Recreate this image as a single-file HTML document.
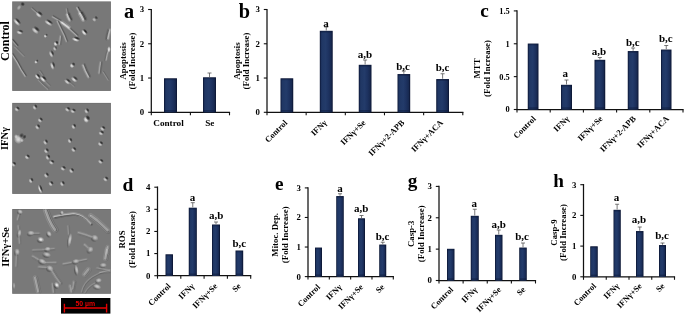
<!DOCTYPE html>
<html><head><meta charset="utf-8"><title>Figure</title>
<style>
html,body{margin:0;padding:0;background:#fff;}
svg{display:block;will-change:transform;opacity:0.999;}
text{font-family:"Liberation Serif", "DejaVu Serif", serif;fill:#000;}
</style></head>
<body>
<svg width="685" height="315" viewBox="0 0 685 315">
<defs><linearGradient id="bg" x1="0" y1="0" x2="1" y2="0"><stop offset="0" stop-color="#15264f"/><stop offset="0.12" stop-color="#203764"/><stop offset="0.45" stop-color="#233b6a"/><stop offset="0.7" stop-color="#1d3260"/><stop offset="0.9" stop-color="#182a52"/><stop offset="1" stop-color="#101c3e"/></linearGradient></defs>
<rect width="685" height="315" fill="#fff"/>
<g id="micro">
<radialGradient id="gl"><stop offset="0" stop-color="#fff" stop-opacity="0.85"/><stop offset="0.35" stop-color="#fff" stop-opacity="0.7"/><stop offset="1" stop-color="#fff" stop-opacity="0"/></radialGradient>
<radialGradient id="gd"><stop offset="0" stop-color="#000" stop-opacity="0.7"/><stop offset="0.35" stop-color="#000" stop-opacity="0.55"/><stop offset="1" stop-color="#000" stop-opacity="0"/></radialGradient>
<clipPath id="cp1"><rect x="12.2" y="1.4" width="98.7" height="89.5"/></clipPath><rect x="12.2" y="1.4" width="98.7" height="89.5" fill="#6e6e6e"/><rect x="12.899999999999999" y="2.0999999999999996" width="97.3" height="88.1" fill="#787878"/><g clip-path="url(#cp1)"><ellipse cx="19.0" cy="7.6" rx="2.97" ry="2.00" transform="rotate(-60 19.0 7.6)" fill="url(#gl)" opacity="0.5"/><ellipse cx="22.7" cy="4.1" rx="2.16" ry="2.40" transform="rotate(-60 22.7 4.1)" fill="url(#gd)" opacity="0.9"/>
<path d="M32.4 8.0 L38.1 12.9" stroke="#000" stroke-width="2.02" opacity="0.08" stroke-linecap="round" stroke-linejoin="round" fill="none"/><path d="M31.8 8.6 L37.5 13.5" stroke="#fff" stroke-width="2.02" opacity="0.09" stroke-linecap="round" stroke-linejoin="round" fill="none"/><path d="M32.4 8.0 L38.1 12.9" stroke="#000" stroke-width="0.88" opacity="0.20" stroke-linecap="round" stroke-linejoin="round" fill="none"/><path d="M31.8 8.6 L37.5 13.5" stroke="#fff" stroke-width="0.88" opacity="0.25" stroke-linecap="round" stroke-linejoin="round" fill="none"/>
<ellipse cx="38.6" cy="15.0" rx="3.71" ry="2.08" transform="rotate(40 38.6 15.0)" fill="url(#gl)" opacity="0.85"/><ellipse cx="40.2" cy="13.4" rx="3.34" ry="1.77" transform="rotate(40 40.2 13.4)" fill="url(#gd)" opacity="0.9"/>
<ellipse cx="16.6" cy="22.4" rx="4.73" ry="1.92" transform="rotate(48 16.6 22.4)" fill="url(#gl)" opacity="0.9"/><ellipse cx="18.1" cy="20.9" rx="4.25" ry="1.63" transform="rotate(48 18.1 20.9)" fill="url(#gd)" opacity="0.9"/>
<ellipse cx="48.2" cy="23.1" rx="4.73" ry="1.76" transform="rotate(35 48.2 23.1)" fill="url(#gl)" opacity="0.85"/><ellipse cx="49.8" cy="21.6" rx="4.25" ry="1.50" transform="rotate(35 49.8 21.6)" fill="url(#gd)" opacity="0.9"/>
<ellipse cx="19.4" cy="32.6" rx="3.38" ry="1.92" transform="rotate(20 19.4 32.6)" fill="url(#gl)" opacity="0.85"/><ellipse cx="20.9" cy="31.1" rx="3.04" ry="1.63" transform="rotate(20 20.9 31.1)" fill="url(#gd)" opacity="0.8"/>
<ellipse cx="35.1" cy="30.7" rx="4.39" ry="2.24" transform="rotate(42 35.1 30.7)" fill="url(#gl)" opacity="0.8"/><ellipse cx="36.9" cy="28.9" rx="3.95" ry="1.90" transform="rotate(42 36.9 28.9)" fill="url(#gd)" opacity="0.9"/>
<ellipse cx="45.3" cy="36.1" rx="1.76" ry="1.92" transform="rotate(0 45.3 36.1)" fill="url(#gl)" opacity="0.9"/><ellipse cx="46.5" cy="34.9" rx="1.58" ry="1.63" transform="rotate(0 46.5 34.9)" fill="url(#gd)" opacity="0.6"/>
<path d="M53.3 16.2 L60.6 20.4 L68.6 26.9 L77.6 35.2" stroke="#000" stroke-width="2.53" opacity="0.11" stroke-linecap="round" stroke-linejoin="round" fill="none"/><path d="M52.7 16.8 L60.0 21.0 L68.0 27.5 L77.0 35.8" stroke="#fff" stroke-width="2.53" opacity="0.13" stroke-linecap="round" stroke-linejoin="round" fill="none"/><path d="M53.3 16.2 L60.6 20.4 L68.6 26.9 L77.6 35.2" stroke="#000" stroke-width="1.10" opacity="0.27" stroke-linecap="round" stroke-linejoin="round" fill="none"/><path d="M52.7 16.8 L60.0 21.0 L68.0 27.5 L77.0 35.8" stroke="#fff" stroke-width="1.10" opacity="0.34" stroke-linecap="round" stroke-linejoin="round" fill="none"/>
<path d="M62.6 21.9 L69.6 26.9" stroke="#000" stroke-width="4.05" opacity="0.00" stroke-linecap="round" stroke-linejoin="round" fill="none"/><path d="M62.0 22.5 L69.0 27.5" stroke="#fff" stroke-width="4.05" opacity="0.20" stroke-linecap="round" stroke-linejoin="round" fill="none"/><path d="M62.6 21.9 L69.6 26.9" stroke="#000" stroke-width="1.76" opacity="0.00" stroke-linecap="round" stroke-linejoin="round" fill="none"/><path d="M62.0 22.5 L69.0 27.5" stroke="#fff" stroke-width="1.76" opacity="0.53" stroke-linecap="round" stroke-linejoin="round" fill="none"/>
<path d="M58.1 21.0 L61.8 28.7 L64.8 34.7 L67.2 40.9" stroke="#000" stroke-width="2.53" opacity="0.11" stroke-linecap="round" stroke-linejoin="round" fill="none"/><path d="M57.3 21.3 L61.0 29.0 L64.0 35.0 L66.4 41.2" stroke="#fff" stroke-width="2.53" opacity="0.13" stroke-linecap="round" stroke-linejoin="round" fill="none"/><path d="M58.1 21.0 L61.8 28.7 L64.8 34.7 L67.2 40.9" stroke="#000" stroke-width="1.10" opacity="0.27" stroke-linecap="round" stroke-linejoin="round" fill="none"/><path d="M57.3 21.3 L61.0 29.0 L64.0 35.0 L66.4 41.2" stroke="#fff" stroke-width="1.10" opacity="0.34" stroke-linecap="round" stroke-linejoin="round" fill="none"/>
<path d="M67.5 8.7 L68.5 14.4" stroke="#000" stroke-width="2.02" opacity="0.06" stroke-linecap="round" stroke-linejoin="round" fill="none"/><path d="M66.3 9.0 L67.3 14.7" stroke="#fff" stroke-width="2.02" opacity="0.07" stroke-linecap="round" stroke-linejoin="round" fill="none"/><path d="M67.5 8.7 L68.5 14.4" stroke="#000" stroke-width="0.88" opacity="0.16" stroke-linecap="round" stroke-linejoin="round" fill="none"/><path d="M66.3 9.0 L67.3 14.7" stroke="#fff" stroke-width="0.88" opacity="0.20" stroke-linecap="round" stroke-linejoin="round" fill="none"/>
<path d="M68.9 14.1 L69.9 16.9 L71.2 19.4" stroke="#000" stroke-width="3.79" opacity="0.14" stroke-linecap="round" stroke-linejoin="round" fill="none"/><path d="M67.3 14.7 L68.3 17.5 L69.6 20.0" stroke="#fff" stroke-width="3.79" opacity="0.18" stroke-linecap="round" stroke-linejoin="round" fill="none"/><path d="M68.9 14.1 L69.9 16.9 L71.2 19.4" stroke="#000" stroke-width="1.65" opacity="0.36" stroke-linecap="round" stroke-linejoin="round" fill="none"/><path d="M67.3 14.7 L68.3 17.5 L69.6 20.0" stroke="#fff" stroke-width="1.65" opacity="0.48" stroke-linecap="round" stroke-linejoin="round" fill="none"/>
<path d="M78.4 7.3 L81.5 12.9" stroke="#000" stroke-width="2.28" opacity="0.13" stroke-linecap="round" stroke-linejoin="round" fill="none"/><path d="M76.9 7.9 L80.0 13.5" stroke="#fff" stroke-width="2.28" opacity="0.15" stroke-linecap="round" stroke-linejoin="round" fill="none"/><path d="M78.4 7.3 L81.5 12.9" stroke="#000" stroke-width="0.99" opacity="0.34" stroke-linecap="round" stroke-linejoin="round" fill="none"/><path d="M76.9 7.9 L80.0 13.5" stroke="#fff" stroke-width="0.99" opacity="0.39" stroke-linecap="round" stroke-linejoin="round" fill="none"/>
<path d="M81.7 12.8 L83.7 16.3 L85.0 19.0" stroke="#000" stroke-width="4.55" opacity="0.15" stroke-linecap="round" stroke-linejoin="round" fill="none"/><path d="M80.0 13.5 L82.0 17.0 L83.3 19.7" stroke="#fff" stroke-width="4.55" opacity="0.20" stroke-linecap="round" stroke-linejoin="round" fill="none"/><path d="M81.7 12.8 L83.7 16.3 L85.0 19.0" stroke="#000" stroke-width="1.98" opacity="0.38" stroke-linecap="round" stroke-linejoin="round" fill="none"/><path d="M80.0 13.5 L82.0 17.0 L83.3 19.7" stroke="#fff" stroke-width="1.98" opacity="0.53" stroke-linecap="round" stroke-linejoin="round" fill="none"/>
<ellipse cx="94.2" cy="19.7" rx="2.43" ry="1.92" transform="rotate(45 94.2 19.7)" fill="url(#gl)" opacity="0.6"/><ellipse cx="96.3" cy="17.6" rx="2.19" ry="1.63" transform="rotate(45 96.3 17.6)" fill="url(#gd)" opacity="0.7"/>
<ellipse cx="84.0" cy="32.7" rx="3.71" ry="1.92" transform="rotate(50 84.0 32.7)" fill="url(#gl)" opacity="1"/><ellipse cx="85.4" cy="31.3" rx="3.34" ry="1.63" transform="rotate(50 85.4 31.3)" fill="url(#gd)" opacity="1"/>
<ellipse cx="75.6" cy="39.6" rx="4.05" ry="1.92" transform="rotate(20 75.6 39.6)" fill="url(#gl)" opacity="1"/><ellipse cx="77.0" cy="38.2" rx="3.65" ry="1.63" transform="rotate(20 77.0 38.2)" fill="url(#gd)" opacity="1"/>
<path d="M108.7 30.2 L107.6 34.2 L106.7 38.7" stroke="#000" stroke-width="3.54" opacity="0.11" stroke-linecap="round" stroke-linejoin="round" fill="none"/><path d="M109.8 30.0 L108.7 34.0 L107.8 38.5" stroke="#fff" stroke-width="3.54" opacity="0.17" stroke-linecap="round" stroke-linejoin="round" fill="none"/><path d="M108.7 30.2 L107.6 34.2 L106.7 38.7" stroke="#000" stroke-width="1.54" opacity="0.27" stroke-linecap="round" stroke-linejoin="round" fill="none"/><path d="M109.8 30.0 L108.7 34.0 L107.8 38.5" stroke="#fff" stroke-width="1.54" opacity="0.45" stroke-linecap="round" stroke-linejoin="round" fill="none"/>
<ellipse cx="55.5" cy="43.9" rx="2.36" ry="2.08" transform="rotate(60 55.5 43.9)" fill="url(#gl)" opacity="1"/><ellipse cx="56.9" cy="42.5" rx="2.13" ry="1.77" transform="rotate(60 56.9 42.5)" fill="url(#gd)" opacity="1"/>
<path d="M61.3 36.5 L60.9 40.0 L60.3 44.0" stroke="#000" stroke-width="3.04" opacity="0.09" stroke-linecap="round" stroke-linejoin="round" fill="none"/><path d="M60.5 36.5 L60.1 40.0 L59.5 44.0" stroke="#fff" stroke-width="3.04" opacity="0.13" stroke-linecap="round" stroke-linejoin="round" fill="none"/><path d="M61.3 36.5 L60.9 40.0 L60.3 44.0" stroke="#000" stroke-width="1.32" opacity="0.22" stroke-linecap="round" stroke-linejoin="round" fill="none"/><path d="M60.5 36.5 L60.1 40.0 L59.5 44.0" stroke="#fff" stroke-width="1.32" opacity="0.34" stroke-linecap="round" stroke-linejoin="round" fill="none"/>
<path d="M12.9 39.9 L17.6 45.4" stroke="#000" stroke-width="2.53" opacity="0.14" stroke-linecap="round" stroke-linejoin="round" fill="none"/><path d="M12.3 40.5 L17.0 46.0" stroke="#fff" stroke-width="2.53" opacity="0.10" stroke-linecap="round" stroke-linejoin="round" fill="none"/><path d="M12.9 39.9 L17.6 45.4" stroke="#000" stroke-width="1.10" opacity="0.36" stroke-linecap="round" stroke-linejoin="round" fill="none"/><path d="M12.3 40.5 L17.0 46.0" stroke="#fff" stroke-width="1.10" opacity="0.28" stroke-linecap="round" stroke-linejoin="round" fill="none"/>
<path d="M13.0 54.2 L17.7 61.5 L21.7 69.0 L25.9 75.5" stroke="#000" stroke-width="2.53" opacity="0.13" stroke-linecap="round" stroke-linejoin="round" fill="none"/><path d="M12.3 54.7 L17.0 62.0 L21.0 69.5 L25.2 76.0" stroke="#fff" stroke-width="2.53" opacity="0.15" stroke-linecap="round" stroke-linejoin="round" fill="none"/><path d="M13.0 54.2 L17.7 61.5 L21.7 69.0 L25.9 75.5" stroke="#000" stroke-width="1.10" opacity="0.32" stroke-linecap="round" stroke-linejoin="round" fill="none"/><path d="M12.3 54.7 L17.0 62.0 L21.0 69.5 L25.2 76.0" stroke="#fff" stroke-width="1.10" opacity="0.39" stroke-linecap="round" stroke-linejoin="round" fill="none"/>
<path d="M15.2 46.4 L19.6 50.9 L24.3 55.6" stroke="#000" stroke-width="2.02" opacity="0.04" stroke-linecap="round" stroke-linejoin="round" fill="none"/><path d="M14.6 47.0 L19.0 51.5 L23.7 56.2" stroke="#fff" stroke-width="2.02" opacity="0.07" stroke-linecap="round" stroke-linejoin="round" fill="none"/><path d="M15.2 46.4 L19.6 50.9 L24.3 55.6" stroke="#000" stroke-width="0.88" opacity="0.09" stroke-linecap="round" stroke-linejoin="round" fill="none"/><path d="M14.6 47.0 L19.0 51.5 L23.7 56.2" stroke="#fff" stroke-width="0.88" opacity="0.20" stroke-linecap="round" stroke-linejoin="round" fill="none"/>
<ellipse cx="36.0" cy="62.0" rx="1.76" ry="1.92" transform="rotate(45 36.0 62.0)" fill="url(#gl)" opacity="0.9"/><ellipse cx="37.2" cy="60.8" rx="1.58" ry="1.63" transform="rotate(45 37.2 60.8)" fill="url(#gd)" opacity="0.7"/>
<ellipse cx="37.2" cy="76.9" rx="3.38" ry="1.76" transform="rotate(50 37.2 76.9)" fill="url(#gl)" opacity="1"/><ellipse cx="38.4" cy="75.7" rx="3.04" ry="1.50" transform="rotate(50 38.4 75.7)" fill="url(#gd)" opacity="1"/>
<ellipse cx="42.8" cy="79.3" rx="4.05" ry="1.92" transform="rotate(45 42.8 79.3)" fill="url(#gl)" opacity="1"/><ellipse cx="44.2" cy="77.9" rx="3.65" ry="1.63" transform="rotate(45 44.2 77.9)" fill="url(#gd)" opacity="1"/>
<path d="M40.6 70.9 L43.6 75.4" stroke="#000" stroke-width="2.02" opacity="0.05" stroke-linecap="round" stroke-linejoin="round" fill="none"/><path d="M40.0 71.5 L43.0 76.0" stroke="#fff" stroke-width="2.02" opacity="0.06" stroke-linecap="round" stroke-linejoin="round" fill="none"/><path d="M40.6 70.9 L43.6 75.4" stroke="#000" stroke-width="0.88" opacity="0.14" stroke-linecap="round" stroke-linejoin="round" fill="none"/><path d="M40.0 71.5 L43.0 76.0" stroke="#fff" stroke-width="0.88" opacity="0.17" stroke-linecap="round" stroke-linejoin="round" fill="none"/>
<path d="M39.3 79.9 L43.6 84.4 L48.4 88.7" stroke="#000" stroke-width="2.28" opacity="0.05" stroke-linecap="round" stroke-linejoin="round" fill="none"/><path d="M38.7 80.5 L43.0 85.0 L47.8 89.3" stroke="#fff" stroke-width="2.28" opacity="0.07" stroke-linecap="round" stroke-linejoin="round" fill="none"/><path d="M39.3 79.9 L43.6 84.4 L48.4 88.7" stroke="#000" stroke-width="0.99" opacity="0.14" stroke-linecap="round" stroke-linejoin="round" fill="none"/><path d="M38.7 80.5 L43.0 85.0 L47.8 89.3" stroke="#fff" stroke-width="0.99" opacity="0.20" stroke-linecap="round" stroke-linejoin="round" fill="none"/>
<path d="M45.1 80.4 L50.1 85.4" stroke="#000" stroke-width="2.28" opacity="0.04" stroke-linecap="round" stroke-linejoin="round" fill="none"/><path d="M44.5 81.0 L49.5 86.0" stroke="#fff" stroke-width="2.28" opacity="0.06" stroke-linecap="round" stroke-linejoin="round" fill="none"/><path d="M45.1 80.4 L50.1 85.4" stroke="#000" stroke-width="0.99" opacity="0.11" stroke-linecap="round" stroke-linejoin="round" fill="none"/><path d="M44.5 81.0 L49.5 86.0" stroke="#fff" stroke-width="0.99" opacity="0.17" stroke-linecap="round" stroke-linejoin="round" fill="none"/>
<ellipse cx="51.0" cy="54.4" rx="3.71" ry="1.76" transform="rotate(65 51.0 54.4)" fill="url(#gl)" opacity="0.8"/><ellipse cx="52.5" cy="52.9" rx="3.34" ry="1.50" transform="rotate(65 52.5 52.9)" fill="url(#gd)" opacity="0.8"/>
<ellipse cx="52.1" cy="66.1" rx="4.05" ry="1.76" transform="rotate(72 52.1 66.1)" fill="url(#gl)" opacity="0.85"/><ellipse cx="53.7" cy="64.5" rx="3.65" ry="1.50" transform="rotate(72 53.7 64.5)" fill="url(#gd)" opacity="0.8"/>
<ellipse cx="54.7" cy="48.8" rx="2.36" ry="1.76" transform="rotate(60 54.7 48.8)" fill="url(#gl)" opacity="0.7"/><ellipse cx="55.9" cy="47.6" rx="2.13" ry="1.50" transform="rotate(60 55.9 47.6)" fill="url(#gd)" opacity="0.5"/>
<ellipse cx="72.0" cy="65.7" rx="2.43" ry="2.40" transform="rotate(45 72.0 65.7)" fill="url(#gl)" opacity="0.95"/><ellipse cx="73.5" cy="64.2" rx="2.19" ry="2.04" transform="rotate(45 73.5 64.2)" fill="url(#gd)" opacity="0.85"/>
<ellipse cx="67.0" cy="82.0" rx="3.71" ry="1.76" transform="rotate(40 67.0 82.0)" fill="url(#gl)" opacity="0.8"/><ellipse cx="68.5" cy="80.5" rx="3.34" ry="1.50" transform="rotate(40 68.5 80.5)" fill="url(#gd)" opacity="0.8"/>
<ellipse cx="74.0" cy="79.7" rx="3.71" ry="1.92" transform="rotate(40 74.0 79.7)" fill="url(#gl)" opacity="0.9"/><ellipse cx="75.5" cy="78.2" rx="3.34" ry="1.63" transform="rotate(40 75.5 78.2)" fill="url(#gd)" opacity="0.8"/>
<path d="M70.6 82.4 L74.6 85.9" stroke="#000" stroke-width="2.02" opacity="0.04" stroke-linecap="round" stroke-linejoin="round" fill="none"/><path d="M70.0 83.0 L74.0 86.5" stroke="#fff" stroke-width="2.02" opacity="0.05" stroke-linecap="round" stroke-linejoin="round" fill="none"/><path d="M70.6 82.4 L74.6 85.9" stroke="#000" stroke-width="0.88" opacity="0.09" stroke-linecap="round" stroke-linejoin="round" fill="none"/><path d="M70.0 83.0 L74.0 86.5" stroke="#fff" stroke-width="0.88" opacity="0.14" stroke-linecap="round" stroke-linejoin="round" fill="none"/>
<path d="M84.1 64.9 L86.4 70.6 L89.4 76.4" stroke="#000" stroke-width="3.54" opacity="0.13" stroke-linecap="round" stroke-linejoin="round" fill="none"/><path d="M83.2 65.3 L85.5 71.0 L88.5 76.8" stroke="#fff" stroke-width="3.54" opacity="0.17" stroke-linecap="round" stroke-linejoin="round" fill="none"/><path d="M84.1 64.9 L86.4 70.6 L89.4 76.4" stroke="#000" stroke-width="1.54" opacity="0.32" stroke-linecap="round" stroke-linejoin="round" fill="none"/><path d="M83.2 65.3 L85.5 71.0 L88.5 76.8" stroke="#fff" stroke-width="1.54" opacity="0.45" stroke-linecap="round" stroke-linejoin="round" fill="none"/>
<path d="M101.4 62.5 L100.6 68.0 L100.0 73.0" stroke="#000" stroke-width="3.04" opacity="0.10" stroke-linecap="round" stroke-linejoin="round" fill="none"/><path d="M100.6 62.5 L99.8 68.0 L99.2 73.0" stroke="#fff" stroke-width="3.04" opacity="0.13" stroke-linecap="round" stroke-linejoin="round" fill="none"/><path d="M101.4 62.5 L100.6 68.0 L100.0 73.0" stroke="#000" stroke-width="1.32" opacity="0.25" stroke-linecap="round" stroke-linejoin="round" fill="none"/><path d="M100.6 62.5 L99.8 68.0 L99.2 73.0" stroke="#fff" stroke-width="1.32" opacity="0.34" stroke-linecap="round" stroke-linejoin="round" fill="none"/>
<path d="M107.8 50.0 L106.4 54.0 L105.2 60.0" stroke="#000" stroke-width="2.53" opacity="0.06" stroke-linecap="round" stroke-linejoin="round" fill="none"/><path d="M108.6 50.0 L107.2 54.0 L106.0 60.0" stroke="#fff" stroke-width="2.53" opacity="0.13" stroke-linecap="round" stroke-linejoin="round" fill="none"/><path d="M107.8 50.0 L106.4 54.0 L105.2 60.0" stroke="#000" stroke-width="1.10" opacity="0.16" stroke-linecap="round" stroke-linejoin="round" fill="none"/><path d="M108.6 50.0 L107.2 54.0 L106.0 60.0" stroke="#fff" stroke-width="1.10" opacity="0.34" stroke-linecap="round" stroke-linejoin="round" fill="none"/>
<ellipse cx="109.0" cy="49.3" rx="1.89" ry="3.20" transform="rotate(0 109.0 49.3)" fill="url(#gl)" opacity="0.9"/>
<path d="M103.6 71.4 L108.6 79.4" stroke="#000" stroke-width="1.77" opacity="0.05" stroke-linecap="round" stroke-linejoin="round" fill="none"/><path d="M103.0 72.0 L108.0 80.0" stroke="#fff" stroke-width="1.77" opacity="0.07" stroke-linecap="round" stroke-linejoin="round" fill="none"/><path d="M103.6 71.4 L108.6 79.4" stroke="#000" stroke-width="0.77" opacity="0.14" stroke-linecap="round" stroke-linejoin="round" fill="none"/><path d="M103.0 72.0 L108.0 80.0" stroke="#fff" stroke-width="0.77" opacity="0.20" stroke-linecap="round" stroke-linejoin="round" fill="none"/></g>
<clipPath id="cp2"><rect x="12.2" y="102.9" width="98.7" height="91.0"/></clipPath><rect x="12.2" y="102.9" width="98.7" height="91.0" fill="#6e6e6e"/><rect x="12.899999999999999" y="103.60000000000001" width="97.3" height="89.6" fill="#787878"/><g clip-path="url(#cp2)"><ellipse cx="16.6" cy="109.5" rx="2.70" ry="1.92" transform="rotate(40 16.6 109.5)" fill="url(#gl)" opacity="0.75"/><ellipse cx="18.0" cy="108.1" rx="2.43" ry="1.63" transform="rotate(40 18.0 108.1)" fill="url(#gd)" opacity="0.9"/>
<ellipse cx="34.5" cy="107.6" rx="2.70" ry="1.92" transform="rotate(55 34.5 107.6)" fill="url(#gl)" opacity="0.75"/><ellipse cx="35.9" cy="106.2" rx="2.43" ry="1.63" transform="rotate(55 35.9 106.2)" fill="url(#gd)" opacity="0.9"/>
<ellipse cx="39.8" cy="120.5" rx="2.70" ry="1.92" transform="rotate(45 39.8 120.5)" fill="url(#gl)" opacity="0.75"/><ellipse cx="41.2" cy="119.1" rx="2.43" ry="1.63" transform="rotate(45 41.2 119.1)" fill="url(#gd)" opacity="0.9"/>
<ellipse cx="37.2" cy="127.4" rx="2.70" ry="1.92" transform="rotate(50 37.2 127.4)" fill="url(#gl)" opacity="0.75"/><ellipse cx="38.6" cy="126.0" rx="2.43" ry="1.63" transform="rotate(50 38.6 126.0)" fill="url(#gd)" opacity="0.9"/>
<ellipse cx="45.1" cy="142.6" rx="2.70" ry="1.92" transform="rotate(60 45.1 142.6)" fill="url(#gl)" opacity="0.75"/><ellipse cx="46.5" cy="141.2" rx="2.43" ry="1.63" transform="rotate(60 46.5 141.2)" fill="url(#gd)" opacity="0.9"/>
<ellipse cx="67.2" cy="109.8" rx="2.70" ry="1.92" transform="rotate(35 67.2 109.8)" fill="url(#gl)" opacity="0.75"/><ellipse cx="68.6" cy="108.4" rx="2.43" ry="1.63" transform="rotate(35 68.6 108.4)" fill="url(#gd)" opacity="0.9"/>
<ellipse cx="72.6" cy="111.4" rx="2.70" ry="1.92" transform="rotate(30 72.6 111.4)" fill="url(#gl)" opacity="0.75"/><ellipse cx="74.0" cy="110.0" rx="2.43" ry="1.63" transform="rotate(30 74.0 110.0)" fill="url(#gd)" opacity="0.9"/>
<ellipse cx="86.3" cy="111.4" rx="2.70" ry="1.92" transform="rotate(55 86.3 111.4)" fill="url(#gl)" opacity="0.75"/><ellipse cx="87.7" cy="110.0" rx="2.43" ry="1.63" transform="rotate(55 87.7 110.0)" fill="url(#gd)" opacity="0.9"/>
<ellipse cx="73.3" cy="126.9" rx="2.70" ry="1.92" transform="rotate(60 73.3 126.9)" fill="url(#gl)" opacity="0.75"/><ellipse cx="74.7" cy="125.5" rx="2.43" ry="1.63" transform="rotate(60 74.7 125.5)" fill="url(#gd)" opacity="0.9"/>
<ellipse cx="102.3" cy="128.9" rx="2.70" ry="1.92" transform="rotate(35 102.3 128.9)" fill="url(#gl)" opacity="0.75"/><ellipse cx="103.7" cy="127.5" rx="2.43" ry="1.63" transform="rotate(35 103.7 127.5)" fill="url(#gd)" opacity="0.9"/>
<ellipse cx="100.8" cy="133.5" rx="2.70" ry="1.92" transform="rotate(30 100.8 133.5)" fill="url(#gl)" opacity="0.75"/><ellipse cx="102.2" cy="132.1" rx="2.43" ry="1.63" transform="rotate(30 102.2 132.1)" fill="url(#gd)" opacity="0.9"/>
<ellipse cx="69.5" cy="141.1" rx="2.70" ry="1.92" transform="rotate(60 69.5 141.1)" fill="url(#gl)" opacity="0.75"/><ellipse cx="70.9" cy="139.7" rx="2.43" ry="1.63" transform="rotate(60 70.9 139.7)" fill="url(#gd)" opacity="0.9"/>
<ellipse cx="100.0" cy="144.2" rx="2.70" ry="1.92" transform="rotate(40 100.0 144.2)" fill="url(#gl)" opacity="0.75"/><ellipse cx="101.4" cy="142.8" rx="2.43" ry="1.63" transform="rotate(40 101.4 142.8)" fill="url(#gd)" opacity="0.9"/>
<ellipse cx="26.8" cy="157.4" rx="2.70" ry="1.92" transform="rotate(40 26.8 157.4)" fill="url(#gl)" opacity="0.75"/><ellipse cx="28.2" cy="156.0" rx="2.43" ry="1.63" transform="rotate(40 28.2 156.0)" fill="url(#gd)" opacity="0.9"/>
<ellipse cx="13.1" cy="164.7" rx="2.70" ry="1.92" transform="rotate(40 13.1 164.7)" fill="url(#gl)" opacity="0.75"/><ellipse cx="14.5" cy="163.3" rx="2.43" ry="1.63" transform="rotate(40 14.5 163.3)" fill="url(#gd)" opacity="0.9"/>
<ellipse cx="45.9" cy="151.3" rx="2.70" ry="1.92" transform="rotate(50 45.9 151.3)" fill="url(#gl)" opacity="0.75"/><ellipse cx="47.3" cy="149.9" rx="2.43" ry="1.63" transform="rotate(50 47.3 149.9)" fill="url(#gd)" opacity="0.9"/>
<ellipse cx="47.4" cy="157.7" rx="2.70" ry="1.92" transform="rotate(60 47.4 157.7)" fill="url(#gl)" opacity="0.75"/><ellipse cx="48.8" cy="156.3" rx="2.43" ry="1.63" transform="rotate(60 48.8 156.3)" fill="url(#gd)" opacity="0.9"/>
<ellipse cx="51.2" cy="162.7" rx="2.70" ry="1.92" transform="rotate(30 51.2 162.7)" fill="url(#gl)" opacity="0.75"/><ellipse cx="52.6" cy="161.3" rx="2.43" ry="1.63" transform="rotate(30 52.6 161.3)" fill="url(#gd)" opacity="0.9"/>
<ellipse cx="62.7" cy="168.8" rx="2.70" ry="1.92" transform="rotate(35 62.7 168.8)" fill="url(#gl)" opacity="0.75"/><ellipse cx="64.1" cy="167.4" rx="2.43" ry="1.63" transform="rotate(35 64.1 167.4)" fill="url(#gd)" opacity="0.9"/>
<ellipse cx="71.1" cy="171.1" rx="2.70" ry="1.92" transform="rotate(50 71.1 171.1)" fill="url(#gl)" opacity="0.75"/><ellipse cx="72.5" cy="169.7" rx="2.43" ry="1.63" transform="rotate(50 72.5 169.7)" fill="url(#gd)" opacity="0.9"/>
<ellipse cx="45.9" cy="175.7" rx="2.70" ry="1.92" transform="rotate(55 45.9 175.7)" fill="url(#gl)" opacity="0.75"/><ellipse cx="47.3" cy="174.3" rx="2.43" ry="1.63" transform="rotate(55 47.3 174.3)" fill="url(#gd)" opacity="0.9"/>
<ellipse cx="30.6" cy="181.0" rx="2.70" ry="1.92" transform="rotate(60 30.6 181.0)" fill="url(#gl)" opacity="0.75"/><ellipse cx="32.0" cy="179.6" rx="2.43" ry="1.63" transform="rotate(60 32.0 179.6)" fill="url(#gd)" opacity="0.9"/>
<ellipse cx="50.5" cy="184.1" rx="2.70" ry="1.92" transform="rotate(50 50.5 184.1)" fill="url(#gl)" opacity="0.75"/><ellipse cx="51.9" cy="182.7" rx="2.43" ry="1.63" transform="rotate(50 51.9 182.7)" fill="url(#gd)" opacity="0.9"/>
<ellipse cx="61.9" cy="184.1" rx="2.70" ry="1.92" transform="rotate(60 61.9 184.1)" fill="url(#gl)" opacity="0.75"/><ellipse cx="63.3" cy="182.7" rx="2.43" ry="1.63" transform="rotate(60 63.3 182.7)" fill="url(#gd)" opacity="0.9"/>
<ellipse cx="73.3" cy="150.1" rx="2.70" ry="1.92" transform="rotate(45 73.3 150.1)" fill="url(#gl)" opacity="0.75"/><ellipse cx="74.7" cy="148.7" rx="2.43" ry="1.63" transform="rotate(45 74.7 148.7)" fill="url(#gd)" opacity="0.9"/>
<ellipse cx="100.3" cy="161.9" rx="2.70" ry="1.92" transform="rotate(35 100.3 161.9)" fill="url(#gl)" opacity="0.75"/><ellipse cx="101.7" cy="160.5" rx="2.43" ry="1.63" transform="rotate(35 101.7 160.5)" fill="url(#gd)" opacity="0.9"/>
<ellipse cx="105.3" cy="179.5" rx="2.70" ry="1.92" transform="rotate(40 105.3 179.5)" fill="url(#gl)" opacity="0.75"/><ellipse cx="106.7" cy="178.1" rx="2.43" ry="1.63" transform="rotate(40 106.7 178.1)" fill="url(#gd)" opacity="0.9"/>
<ellipse cx="86.1" cy="119.7" rx="3.38" ry="2.72" transform="rotate(60 86.1 119.7)" fill="url(#gl)" opacity="1"/><ellipse cx="87.9" cy="117.9" rx="3.04" ry="2.31" transform="rotate(60 87.9 117.9)" fill="url(#gd)" opacity="1"/>
<ellipse cx="40.0" cy="189.2" rx="4.73" ry="1.76" transform="rotate(70 40.0 189.2)" fill="url(#gl)" opacity="1"/><ellipse cx="41.0" cy="188.2" rx="4.25" ry="1.50" transform="rotate(70 41.0 188.2)" fill="url(#gd)" opacity="1"/>
<ellipse cx="18.3" cy="139.3" rx="4.32" ry="4.80" transform="rotate(-20 18.3 139.3)" fill="url(#gl)" opacity="0.85"/>
<ellipse cx="21.5" cy="135.5" rx="2.97" ry="2.40" transform="rotate(-50 21.5 135.5)" fill="url(#gd)" opacity="0.7"/>
<ellipse cx="24.5" cy="136.8" rx="2.43" ry="2.00" transform="rotate(-60 24.5 136.8)" fill="url(#gd)" opacity="0.8"/>
<ellipse cx="16.0" cy="136.5" rx="2.03" ry="2.40" transform="rotate(0 16.0 136.5)" fill="url(#gl)" opacity="0.6"/>
<ellipse cx="22.0" cy="140.5" rx="1.89" ry="2.00" transform="rotate(0 22.0 140.5)" fill="url(#gl)" opacity="0.6"/></g>
<clipPath id="cp3"><rect x="12.2" y="209" width="98.7" height="84.8"/></clipPath><rect x="12.2" y="209" width="98.7" height="84.8" fill="#6e6e6e"/><rect x="12.899999999999999" y="209.7" width="97.3" height="83.39999999999999" fill="#797979"/><g clip-path="url(#cp3)"><ellipse cx="19.2" cy="213.0" rx="2.43" ry="2.88" transform="rotate(-60 19.2 213.0)" fill="url(#gd)" opacity="0.5599999999999999"/><ellipse cx="20.1" cy="211.8" rx="2.43" ry="2.88" transform="rotate(-60 20.1 211.8)" fill="url(#gl)" opacity="0.7224999999999999"/>
<path d="M19.7 214.3 L18.2 219.8" stroke="#000" stroke-width="3.04" opacity="0.04" stroke-linecap="round" stroke-linejoin="round" fill="none"/><path d="M19.0 214.0 L17.5 219.5" stroke="#fff" stroke-width="3.04" opacity="0.08" stroke-linecap="round" stroke-linejoin="round" fill="none"/><path d="M19.7 214.3 L18.2 219.8" stroke="#000" stroke-width="1.32" opacity="0.10" stroke-linecap="round" stroke-linejoin="round" fill="none"/><path d="M19.0 214.0 L17.5 219.5" stroke="#fff" stroke-width="1.32" opacity="0.22" stroke-linecap="round" stroke-linejoin="round" fill="none"/>
<path d="M46.7 210.9 L49.9 219.3 L52.9 225.3 L55.9 229.9" stroke="#000" stroke-width="5.69" opacity="0.10" stroke-linecap="round" stroke-linejoin="round" fill="none"/><path d="M45.8 210.6 L49.0 219.0 L52.0 225.0 L55.0 229.6" stroke="#fff" stroke-width="5.69" opacity="0.14" stroke-linecap="round" stroke-linejoin="round" fill="none"/><path d="M46.7 210.9 L49.9 219.3 L52.9 225.3 L55.9 229.9" stroke="#000" stroke-width="2.48" opacity="0.25" stroke-linecap="round" stroke-linejoin="round" fill="none"/><path d="M45.8 210.6 L49.0 219.0 L52.0 225.0 L55.0 229.6" stroke="#fff" stroke-width="2.48" opacity="0.38" stroke-linecap="round" stroke-linejoin="round" fill="none"/>
<path d="M54.2 216.7 Q64 214.5 74 213.6 Q84 215 90.8 223.5" transform="translate(0.7 0.7)" stroke="#000" stroke-width="3.12" opacity="0.18" fill="none" stroke-linecap="round"/><path d="M54.2 216.7 Q64 214.5 74 213.6 Q84 215 90.8 223.5" stroke="#fff" stroke-width="3.12" opacity="0.22" fill="none" stroke-linecap="round"/><path d="M54.2 216.7 Q64 214.5 74 213.6 Q84 215 90.8 223.5" transform="translate(0.7 0.7)" stroke="#000" stroke-width="1.30" opacity="0.36" fill="none" stroke-linecap="round"/><path d="M54.2 216.7 Q64 214.5 74 213.6 Q84 215 90.8 223.5" stroke="#fff" stroke-width="1.30" opacity="0.49" fill="none" stroke-linecap="round"/>
<ellipse cx="61.1" cy="213.8" rx="1.94" ry="2.16" transform="rotate(0 61.1 213.8)" fill="url(#gd)" opacity="0.4"/><ellipse cx="62.0" cy="212.6" rx="1.94" ry="2.16" transform="rotate(0 62.0 212.6)" fill="url(#gl)" opacity="0.68"/>
<path d="M91.3 216.8 L97.5 221.4 L103.5 226.9 L108.1 231.3" stroke="#000" stroke-width="5.31" opacity="0.09" stroke-linecap="round" stroke-linejoin="round" fill="none"/><path d="M90.8 215.9 L97.0 220.5 L103.0 226.0 L107.6 230.4" stroke="#fff" stroke-width="5.31" opacity="0.14" stroke-linecap="round" stroke-linejoin="round" fill="none"/><path d="M91.3 216.8 L97.5 221.4 L103.5 226.9 L108.1 231.3" stroke="#000" stroke-width="2.31" opacity="0.24" stroke-linecap="round" stroke-linejoin="round" fill="none"/><path d="M90.8 215.9 L97.0 220.5 L103.0 226.0 L107.6 230.4" stroke="#fff" stroke-width="2.31" opacity="0.38" stroke-linecap="round" stroke-linejoin="round" fill="none"/>
<ellipse cx="18.4" cy="234.3" rx="2.19" ry="4.14" transform="rotate(10 18.4 234.3)" fill="url(#gd)" opacity="0.5599999999999999"/><ellipse cx="19.3" cy="233.1" rx="2.19" ry="4.14" transform="rotate(10 19.3 233.1)" fill="url(#gl)" opacity="0.7224999999999999"/>
<path d="M19.2 229.3 L18.9 226.3" stroke="#000" stroke-width="3.04" opacity="0.04" stroke-linecap="round" stroke-linejoin="round" fill="none"/><path d="M18.5 229.0 L18.2 226.0" stroke="#fff" stroke-width="3.04" opacity="0.08" stroke-linecap="round" stroke-linejoin="round" fill="none"/><path d="M19.2 229.3 L18.9 226.3" stroke="#000" stroke-width="1.32" opacity="0.10" stroke-linecap="round" stroke-linejoin="round" fill="none"/><path d="M18.5 229.0 L18.2 226.0" stroke="#fff" stroke-width="1.32" opacity="0.22" stroke-linecap="round" stroke-linejoin="round" fill="none"/>
<path d="M19.7 236.3 L20.2 243.3" stroke="#000" stroke-width="3.04" opacity="0.04" stroke-linecap="round" stroke-linejoin="round" fill="none"/><path d="M19.0 236.0 L19.5 243.0" stroke="#fff" stroke-width="3.04" opacity="0.08" stroke-linecap="round" stroke-linejoin="round" fill="none"/><path d="M19.7 236.3 L20.2 243.3" stroke="#000" stroke-width="1.32" opacity="0.10" stroke-linecap="round" stroke-linejoin="round" fill="none"/><path d="M19.0 236.0 L19.5 243.0" stroke="#fff" stroke-width="1.32" opacity="0.22" stroke-linecap="round" stroke-linejoin="round" fill="none"/>
<ellipse cx="29.9" cy="234.3" rx="3.65" ry="2.70" transform="rotate(-5 29.9 234.3)" fill="url(#gd)" opacity="0.5599999999999999"/><ellipse cx="30.8" cy="233.1" rx="3.65" ry="2.70" transform="rotate(-5 30.8 233.1)" fill="url(#gl)" opacity="0.7224999999999999"/>
<path d="M33.8 234.0 L39.3 234.0" stroke="#000" stroke-width="3.04" opacity="0.05" stroke-linecap="round" stroke-linejoin="round" fill="none"/><path d="M33.5 233.3 L39.0 233.3" stroke="#fff" stroke-width="3.04" opacity="0.08" stroke-linecap="round" stroke-linejoin="round" fill="none"/><path d="M33.8 234.0 L39.3 234.0" stroke="#000" stroke-width="1.32" opacity="0.14" stroke-linecap="round" stroke-linejoin="round" fill="none"/><path d="M33.5 233.3 L39.0 233.3" stroke="#fff" stroke-width="1.32" opacity="0.22" stroke-linecap="round" stroke-linejoin="round" fill="none"/>
<ellipse cx="48.2" cy="235.1" rx="2.43" ry="3.24" transform="rotate(-30 48.2 235.1)" fill="url(#gd)" opacity="0.5599999999999999"/><ellipse cx="49.1" cy="233.9" rx="2.43" ry="3.24" transform="rotate(-30 49.1 233.9)" fill="url(#gl)" opacity="0.765"/>
<ellipse cx="39.8" cy="240.8" rx="3.65" ry="2.88" transform="rotate(15 39.8 240.8)" fill="url(#gd)" opacity="0.6400000000000001"/><ellipse cx="40.7" cy="239.6" rx="3.65" ry="2.88" transform="rotate(15 40.7 239.6)" fill="url(#gl)" opacity="0.85"/><ellipse cx="40.7" cy="239.6" rx="2.03" ry="1.60" transform="rotate(15 40.7 239.6)" fill="url(#gl)" opacity="0.7"/>
<ellipse cx="68.8" cy="241.2" rx="2.07" ry="7.20" transform="rotate(10 68.8 241.2)" fill="url(#gd)" opacity="0.5599999999999999"/><ellipse cx="69.7" cy="240.0" rx="2.07" ry="7.20" transform="rotate(10 69.7 240.0)" fill="url(#gl)" opacity="0.8075"/>
<path d="M68.7 226.2 L69.3 234.2" stroke="#000" stroke-width="2.66" opacity="0.04" stroke-linecap="round" stroke-linejoin="round" fill="none"/><path d="M68.0 226.0 L68.6 234.0" stroke="#fff" stroke-width="2.66" opacity="0.07" stroke-linecap="round" stroke-linejoin="round" fill="none"/><path d="M68.7 226.2 L69.3 234.2" stroke="#000" stroke-width="1.15" opacity="0.10" stroke-linecap="round" stroke-linejoin="round" fill="none"/><path d="M68.0 226.0 L68.6 234.0" stroke="#fff" stroke-width="1.15" opacity="0.18" stroke-linecap="round" stroke-linejoin="round" fill="none"/>
<ellipse cx="93.9" cy="239.1" rx="3.65" ry="3.24" transform="rotate(25 93.9 239.1)" fill="url(#gd)" opacity="0.5599999999999999"/><ellipse cx="94.8" cy="237.9" rx="3.65" ry="3.24" transform="rotate(25 94.8 237.9)" fill="url(#gl)" opacity="0.7224999999999999"/>
<path d="M78.9 233.5 L86.3 235.8 L91.8 237.8" stroke="#000" stroke-width="3.42" opacity="0.05" stroke-linecap="round" stroke-linejoin="round" fill="none"/><path d="M78.6 232.7 L86.0 235.0 L91.5 237.0" stroke="#fff" stroke-width="3.42" opacity="0.10" stroke-linecap="round" stroke-linejoin="round" fill="none"/><path d="M78.9 233.5 L86.3 235.8 L91.8 237.8" stroke="#000" stroke-width="1.49" opacity="0.14" stroke-linecap="round" stroke-linejoin="round" fill="none"/><path d="M78.6 232.7 L86.0 235.0 L91.5 237.0" stroke="#fff" stroke-width="1.49" opacity="0.27" stroke-linecap="round" stroke-linejoin="round" fill="none"/>
<ellipse cx="89.3" cy="250.9" rx="3.04" ry="3.60" transform="rotate(40 89.3 250.9)" fill="url(#gd)" opacity="0.5599999999999999"/><ellipse cx="90.2" cy="249.7" rx="3.04" ry="3.60" transform="rotate(40 90.2 249.7)" fill="url(#gl)" opacity="0.7224999999999999"/>
<path d="M85.0 245.7 L88.3 248.8" stroke="#000" stroke-width="3.42" opacity="0.05" stroke-linecap="round" stroke-linejoin="round" fill="none"/><path d="M84.7 244.9 L88.0 248.0" stroke="#fff" stroke-width="3.42" opacity="0.10" stroke-linecap="round" stroke-linejoin="round" fill="none"/><path d="M85.0 245.7 L88.3 248.8" stroke="#000" stroke-width="1.49" opacity="0.14" stroke-linecap="round" stroke-linejoin="round" fill="none"/><path d="M84.7 244.9 L88.0 248.0" stroke="#fff" stroke-width="1.49" opacity="0.27" stroke-linecap="round" stroke-linejoin="round" fill="none"/>
<ellipse cx="46.7" cy="250.4" rx="3.04" ry="2.70" transform="rotate(-10 46.7 250.4)" fill="url(#gd)" opacity="0.5599999999999999"/><ellipse cx="47.6" cy="249.2" rx="3.04" ry="2.70" transform="rotate(-10 47.6 249.2)" fill="url(#gl)" opacity="0.7224999999999999"/>
<path d="M33.2 250.9 L42.2 250.5 L54.2 249.4" stroke="#000" stroke-width="3.04" opacity="0.05" stroke-linecap="round" stroke-linejoin="round" fill="none"/><path d="M33.0 250.2 L42.0 249.8 L54.0 248.7" stroke="#fff" stroke-width="3.04" opacity="0.08" stroke-linecap="round" stroke-linejoin="round" fill="none"/><path d="M33.2 250.9 L42.2 250.5 L54.2 249.4" stroke="#000" stroke-width="1.32" opacity="0.14" stroke-linecap="round" stroke-linejoin="round" fill="none"/><path d="M33.0 250.2 L42.0 249.8 L54.0 248.7" stroke="#fff" stroke-width="1.32" opacity="0.22" stroke-linecap="round" stroke-linejoin="round" fill="none"/>
<ellipse cx="16.2" cy="253.2" rx="2.73" ry="3.78" transform="rotate(0 16.2 253.2)" fill="url(#gd)" opacity="0.5599999999999999"/><ellipse cx="17.1" cy="252.0" rx="2.73" ry="3.78" transform="rotate(0 17.1 252.0)" fill="url(#gl)" opacity="0.7224999999999999"/>
<path d="M17.2 255.2 L16.7 266.2" stroke="#000" stroke-width="3.04" opacity="0.04" stroke-linecap="round" stroke-linejoin="round" fill="none"/><path d="M16.5 255.0 L16.0 266.0" stroke="#fff" stroke-width="3.04" opacity="0.08" stroke-linecap="round" stroke-linejoin="round" fill="none"/><path d="M17.2 255.2 L16.7 266.2" stroke="#000" stroke-width="1.32" opacity="0.10" stroke-linecap="round" stroke-linejoin="round" fill="none"/><path d="M16.5 255.0 L16.0 266.0" stroke="#fff" stroke-width="1.32" opacity="0.20" stroke-linecap="round" stroke-linejoin="round" fill="none"/>
<path d="M108.6 247.2 L108.0 253.2" stroke="#000" stroke-width="4.55" opacity="0.05" stroke-linecap="round" stroke-linejoin="round" fill="none"/><path d="M107.8 247.0 L107.2 253.0" stroke="#fff" stroke-width="4.55" opacity="0.12" stroke-linecap="round" stroke-linejoin="round" fill="none"/><path d="M108.6 247.2 L108.0 253.2" stroke="#000" stroke-width="1.98" opacity="0.14" stroke-linecap="round" stroke-linejoin="round" fill="none"/><path d="M107.8 247.0 L107.2 253.0" stroke="#fff" stroke-width="1.98" opacity="0.31" stroke-linecap="round" stroke-linejoin="round" fill="none"/>
<ellipse cx="45.9" cy="255.8" rx="4.25" ry="2.70" transform="rotate(15 45.9 255.8)" fill="url(#gd)" opacity="0.5599999999999999"/><ellipse cx="46.8" cy="254.6" rx="4.25" ry="2.70" transform="rotate(15 46.8 254.6)" fill="url(#gl)" opacity="0.7224999999999999"/>
<ellipse cx="41.3" cy="262.6" rx="4.25" ry="2.70" transform="rotate(25 41.3 262.6)" fill="url(#gd)" opacity="0.5599999999999999"/><ellipse cx="42.2" cy="261.4" rx="4.25" ry="2.70" transform="rotate(25 42.2 261.4)" fill="url(#gl)" opacity="0.7224999999999999"/>
<path d="M33.2 257.2 L38.3 260.3" stroke="#000" stroke-width="3.42" opacity="0.05" stroke-linecap="round" stroke-linejoin="round" fill="none"/><path d="M32.9 256.4 L38.0 259.5" stroke="#fff" stroke-width="3.42" opacity="0.09" stroke-linecap="round" stroke-linejoin="round" fill="none"/><path d="M33.2 257.2 L38.3 260.3" stroke="#000" stroke-width="1.49" opacity="0.14" stroke-linecap="round" stroke-linejoin="round" fill="none"/><path d="M32.9 256.4 L38.0 259.5" stroke="#fff" stroke-width="1.49" opacity="0.25" stroke-linecap="round" stroke-linejoin="round" fill="none"/>
<path d="M45.7 263.4 L55.9 263.2" stroke="#000" stroke-width="3.04" opacity="0.04" stroke-linecap="round" stroke-linejoin="round" fill="none"/><path d="M45.5 262.7 L55.7 262.5" stroke="#fff" stroke-width="3.04" opacity="0.08" stroke-linecap="round" stroke-linejoin="round" fill="none"/><path d="M45.7 263.4 L55.9 263.2" stroke="#000" stroke-width="1.32" opacity="0.10" stroke-linecap="round" stroke-linejoin="round" fill="none"/><path d="M45.5 262.7 L55.7 262.5" stroke="#fff" stroke-width="1.32" opacity="0.22" stroke-linecap="round" stroke-linejoin="round" fill="none"/>
<ellipse cx="48.9" cy="269.5" rx="3.65" ry="3.06" transform="rotate(30 48.9 269.5)" fill="url(#gd)" opacity="0.5599999999999999"/><ellipse cx="49.8" cy="268.3" rx="3.65" ry="3.06" transform="rotate(30 49.8 268.3)" fill="url(#gl)" opacity="0.7224999999999999"/>
<path d="M39.2 267.7 L46.2 268.2" stroke="#000" stroke-width="3.42" opacity="0.05" stroke-linecap="round" stroke-linejoin="round" fill="none"/><path d="M39.0 267.0 L46.0 267.5" stroke="#fff" stroke-width="3.42" opacity="0.09" stroke-linecap="round" stroke-linejoin="round" fill="none"/><path d="M39.2 267.7 L46.2 268.2" stroke="#000" stroke-width="1.49" opacity="0.14" stroke-linecap="round" stroke-linejoin="round" fill="none"/><path d="M39.0 267.0 L46.0 267.5" stroke="#fff" stroke-width="1.49" opacity="0.25" stroke-linecap="round" stroke-linejoin="round" fill="none"/>
<path d="M52.8 270.8 L56.8 277.3 L61.1 283.3" stroke="#000" stroke-width="3.79" opacity="0.07" stroke-linecap="round" stroke-linejoin="round" fill="none"/><path d="M52.0 270.5 L56.0 277.0 L60.3 283.0" stroke="#fff" stroke-width="3.79" opacity="0.10" stroke-linecap="round" stroke-linejoin="round" fill="none"/><path d="M52.8 270.8 L56.8 277.3 L61.1 283.3" stroke="#000" stroke-width="1.65" opacity="0.17" stroke-linecap="round" stroke-linejoin="round" fill="none"/><path d="M52.0 270.5 L56.0 277.0 L60.3 283.0" stroke="#fff" stroke-width="1.65" opacity="0.27" stroke-linecap="round" stroke-linejoin="round" fill="none"/>
<ellipse cx="74.9" cy="262.6" rx="3.65" ry="2.52" transform="rotate(-10 74.9 262.6)" fill="url(#gd)" opacity="0.5599999999999999"/><ellipse cx="75.8" cy="261.4" rx="3.65" ry="2.52" transform="rotate(-10 75.8 261.4)" fill="url(#gl)" opacity="0.7224999999999999"/>
<path d="M63.6 264.7 L71.2 263.3" stroke="#000" stroke-width="3.04" opacity="0.05" stroke-linecap="round" stroke-linejoin="round" fill="none"/><path d="M63.4 264.0 L71.0 262.6" stroke="#fff" stroke-width="3.04" opacity="0.09" stroke-linecap="round" stroke-linejoin="round" fill="none"/><path d="M63.6 264.7 L71.2 263.3" stroke="#000" stroke-width="1.32" opacity="0.14" stroke-linecap="round" stroke-linejoin="round" fill="none"/><path d="M63.4 264.0 L71.0 262.6" stroke="#fff" stroke-width="1.32" opacity="0.25" stroke-linecap="round" stroke-linejoin="round" fill="none"/>
<path d="M79.2 261.5 L86.4 260.1" stroke="#000" stroke-width="3.04" opacity="0.05" stroke-linecap="round" stroke-linejoin="round" fill="none"/><path d="M79.0 260.8 L86.2 259.4" stroke="#fff" stroke-width="3.04" opacity="0.09" stroke-linecap="round" stroke-linejoin="round" fill="none"/><path d="M79.2 261.5 L86.4 260.1" stroke="#000" stroke-width="1.32" opacity="0.14" stroke-linecap="round" stroke-linejoin="round" fill="none"/><path d="M79.0 260.8 L86.2 259.4" stroke="#fff" stroke-width="1.32" opacity="0.25" stroke-linecap="round" stroke-linejoin="round" fill="none"/>
<ellipse cx="75.6" cy="271.0" rx="2.07" ry="5.40" transform="rotate(-10 75.6 271.0)" fill="url(#gd)" opacity="0.5599999999999999"/><ellipse cx="76.5" cy="269.8" rx="2.07" ry="5.40" transform="rotate(-10 76.5 269.8)" fill="url(#gl)" opacity="0.7224999999999999"/>
<ellipse cx="55.8" cy="286.3" rx="2.67" ry="3.42" transform="rotate(-30 55.8 286.3)" fill="url(#gd)" opacity="0.68"/><ellipse cx="56.7" cy="285.1" rx="2.67" ry="3.42" transform="rotate(-30 56.7 285.1)" fill="url(#gl)" opacity="0.85"/><ellipse cx="56.7" cy="285.1" rx="1.49" ry="1.90" transform="rotate(-30 56.7 285.1)" fill="url(#gl)" opacity="0.7"/>
<path d="M36.0 277.9 L37.5 284.8 L39.0 291.7" stroke="#000" stroke-width="4.93" opacity="0.08" stroke-linecap="round" stroke-linejoin="round" fill="none"/><path d="M35.2 277.7 L36.7 284.6 L38.2 291.5" stroke="#fff" stroke-width="4.93" opacity="0.13" stroke-linecap="round" stroke-linejoin="round" fill="none"/><path d="M36.0 277.9 L37.5 284.8 L39.0 291.7" stroke="#000" stroke-width="2.15" opacity="0.20" stroke-linecap="round" stroke-linejoin="round" fill="none"/><path d="M35.2 277.7 L36.7 284.6 L38.2 291.5" stroke="#fff" stroke-width="2.15" opacity="0.36" stroke-linecap="round" stroke-linejoin="round" fill="none"/>
<path d="M107.8 249.7 L106.2 258.7" stroke="#000" stroke-width="4.93" opacity="0.07" stroke-linecap="round" stroke-linejoin="round" fill="none"/><path d="M107.0 249.5 L105.4 258.5" stroke="#fff" stroke-width="4.93" opacity="0.13" stroke-linecap="round" stroke-linejoin="round" fill="none"/><path d="M107.8 249.7 L106.2 258.7" stroke="#000" stroke-width="2.15" opacity="0.17" stroke-linecap="round" stroke-linejoin="round" fill="none"/><path d="M107.0 249.5 L105.4 258.5" stroke="#fff" stroke-width="2.15" opacity="0.36" stroke-linecap="round" stroke-linejoin="round" fill="none"/>
<ellipse cx="102.3" cy="266.4" rx="3.65" ry="2.52" transform="rotate(-5 102.3 266.4)" fill="url(#gd)" opacity="0.4"/><ellipse cx="103.2" cy="265.2" rx="3.65" ry="2.52" transform="rotate(-5 103.2 265.2)" fill="url(#gl)" opacity="0.68"/>
<path d="M97.2 268.7 L110.2 271.2" stroke="#000" stroke-width="2.66" opacity="0.04" stroke-linecap="round" stroke-linejoin="round" fill="none"/><path d="M97.0 268.0 L110.0 270.5" stroke="#fff" stroke-width="2.66" opacity="0.08" stroke-linecap="round" stroke-linejoin="round" fill="none"/><path d="M97.2 268.7 L110.2 271.2" stroke="#000" stroke-width="1.15" opacity="0.10" stroke-linecap="round" stroke-linejoin="round" fill="none"/><path d="M97.0 268.0 L110.0 270.5" stroke="#fff" stroke-width="1.15" opacity="0.20" stroke-linecap="round" stroke-linejoin="round" fill="none"/>
<path d="M100.2 273.2 L110.2 272.2" stroke="#000" stroke-width="2.66" opacity="0.04" stroke-linecap="round" stroke-linejoin="round" fill="none"/><path d="M100.0 272.5 L110.0 271.5" stroke="#fff" stroke-width="2.66" opacity="0.08" stroke-linecap="round" stroke-linejoin="round" fill="none"/><path d="M100.2 273.2 L110.2 272.2" stroke="#000" stroke-width="1.15" opacity="0.10" stroke-linecap="round" stroke-linejoin="round" fill="none"/><path d="M100.0 272.5 L110.0 271.5" stroke="#fff" stroke-width="1.15" opacity="0.20" stroke-linecap="round" stroke-linejoin="round" fill="none"/>
<ellipse cx="97.7" cy="281.7" rx="3.34" ry="2.52" transform="rotate(-15 97.7 281.7)" fill="url(#gd)" opacity="0.4"/><ellipse cx="98.6" cy="280.5" rx="3.34" ry="2.52" transform="rotate(-15 98.6 280.5)" fill="url(#gl)" opacity="0.7224999999999999"/>
<ellipse cx="96.2" cy="287.8" rx="4.25" ry="2.52" transform="rotate(20 96.2 287.8)" fill="url(#gd)" opacity="0.4"/><ellipse cx="97.1" cy="286.6" rx="4.25" ry="2.52" transform="rotate(20 97.1 286.6)" fill="url(#gl)" opacity="0.765"/>
<path d="M85.2 275.0 L89.2 270.0" stroke="#000" stroke-width="5.31" opacity="0.05" stroke-linecap="round" stroke-linejoin="round" fill="none"/><path d="M84.5 274.5 L88.5 269.5" stroke="#fff" stroke-width="5.31" opacity="0.11" stroke-linecap="round" stroke-linejoin="round" fill="none"/><path d="M85.2 275.0 L89.2 270.0" stroke="#000" stroke-width="2.31" opacity="0.14" stroke-linecap="round" stroke-linejoin="round" fill="none"/><path d="M84.5 274.5 L88.5 269.5" stroke="#fff" stroke-width="2.31" opacity="0.29" stroke-linecap="round" stroke-linejoin="round" fill="none"/>
<path d="M71.1 286.2 L72.3 291.7" stroke="#000" stroke-width="4.17" opacity="0.07" stroke-linecap="round" stroke-linejoin="round" fill="none"/><path d="M70.3 286.0 L71.5 291.5" stroke="#fff" stroke-width="4.17" opacity="0.11" stroke-linecap="round" stroke-linejoin="round" fill="none"/><path d="M71.1 286.2 L72.3 291.7" stroke="#000" stroke-width="1.82" opacity="0.17" stroke-linecap="round" stroke-linejoin="round" fill="none"/><path d="M70.3 286.0 L71.5 291.5" stroke="#fff" stroke-width="1.82" opacity="0.29" stroke-linecap="round" stroke-linejoin="round" fill="none"/>
<path d="M74.8 282.2 L73.6 289.2" stroke="#000" stroke-width="3.79" opacity="0.07" stroke-linecap="round" stroke-linejoin="round" fill="none"/><path d="M74.0 282.0 L72.8 289.0" stroke="#fff" stroke-width="3.79" opacity="0.10" stroke-linecap="round" stroke-linejoin="round" fill="none"/><path d="M74.8 282.2 L73.6 289.2" stroke="#000" stroke-width="1.65" opacity="0.17" stroke-linecap="round" stroke-linejoin="round" fill="none"/><path d="M74.0 282.0 L72.8 289.0" stroke="#fff" stroke-width="1.65" opacity="0.27" stroke-linecap="round" stroke-linejoin="round" fill="none"/>
<path d="M53.3 284.2 L54.3 292.2" stroke="#000" stroke-width="3.42" opacity="0.05" stroke-linecap="round" stroke-linejoin="round" fill="none"/><path d="M52.5 284.0 L53.5 292.0" stroke="#fff" stroke-width="3.42" opacity="0.09" stroke-linecap="round" stroke-linejoin="round" fill="none"/><path d="M53.3 284.2 L54.3 292.2" stroke="#000" stroke-width="1.49" opacity="0.14" stroke-linecap="round" stroke-linejoin="round" fill="none"/><path d="M52.5 284.0 L53.5 292.0" stroke="#fff" stroke-width="1.49" opacity="0.25" stroke-linecap="round" stroke-linejoin="round" fill="none"/>
<ellipse cx="13.1" cy="286.9" rx="1.58" ry="3.60" transform="rotate(0 13.1 286.9)" fill="url(#gd)" opacity="0.16000000000000003"/><ellipse cx="14.0" cy="285.7" rx="1.58" ry="3.60" transform="rotate(0 14.0 285.7)" fill="url(#gl)" opacity="0.425"/>
<path d="M81.5 292 Q83 283 92 277 Q100 271.5 110 270" transform="translate(0.7 0.7)" stroke="#000" stroke-width="1.68" opacity="0.05" fill="none" stroke-linecap="round"/><path d="M81.5 292 Q83 283 92 277 Q100 271.5 110 270" stroke="#fff" stroke-width="1.68" opacity="0.08" fill="none" stroke-linecap="round"/><path d="M81.5 292 Q83 283 92 277 Q100 271.5 110 270" transform="translate(0.7 0.7)" stroke="#000" stroke-width="0.70" opacity="0.11" fill="none" stroke-linecap="round"/><path d="M81.5 292 Q83 283 92 277 Q100 271.5 110 270" stroke="#fff" stroke-width="0.70" opacity="0.18" fill="none" stroke-linecap="round"/>
<path d="M85 292.5 Q88 286 95 283" transform="translate(0.7 0.7)" stroke="#000" stroke-width="1.68" opacity="0.04" fill="none" stroke-linecap="round"/><path d="M85 292.5 Q88 286 95 283" stroke="#fff" stroke-width="1.68" opacity="0.07" fill="none" stroke-linecap="round"/><path d="M85 292.5 Q88 286 95 283" transform="translate(0.7 0.7)" stroke="#000" stroke-width="0.70" opacity="0.09" fill="none" stroke-linecap="round"/><path d="M85 292.5 Q88 286 95 283" stroke="#fff" stroke-width="0.70" opacity="0.16" fill="none" stroke-linecap="round"/></g>
<rect x="61" y="298" width="49.4" height="15.6" fill="#000"/>
<path d="M64 308H107M64.4 303.8v8.6M106.6 303.8v8.6" stroke="#e60000" stroke-width="1.4" fill="none"/>
<text x="85.3" y="306.1" text-anchor="middle" font-size="6.9" font-weight="bold" style="font-family:'Liberation Sans','DejaVu Sans',sans-serif;fill:#e60000">50 µm</text>
<text transform="translate(9.1 41) rotate(-90)" text-anchor="middle" font-size="12" font-weight="bold">Control</text>
<text transform="translate(7.6 138.5) rotate(-90)" text-anchor="middle" font-size="10.5" font-weight="bold">IFNγ</text>
<text transform="translate(8.6 247) rotate(-90)" text-anchor="middle" font-size="10.5" font-weight="bold">IFNγ+Se</text>
</g>
<path d="M151.3 8.9V112.3H230.1" fill="none" stroke="#111" stroke-width="1.25"/>
<path d="M148.10000000000002 112.30H151.3" stroke="#111" stroke-width="1.1"/>
<text x="144.10000000000002" y="115.20" text-anchor="end" font-size="8.8" font-weight="bold">0</text>
<path d="M148.10000000000002 78.03H151.3" stroke="#111" stroke-width="1.1"/>
<text x="144.10000000000002" y="80.93" text-anchor="end" font-size="8.8" font-weight="bold">1</text>
<path d="M148.10000000000002 43.77H151.3" stroke="#111" stroke-width="1.1"/>
<text x="144.10000000000002" y="46.67" text-anchor="end" font-size="8.8" font-weight="bold">2</text>
<path d="M148.10000000000002 9.50H151.3" stroke="#111" stroke-width="1.1"/>
<text x="144.10000000000002" y="12.40" text-anchor="end" font-size="8.8" font-weight="bold">3</text>
<path d="M151.30 112.3v3" stroke="#111" stroke-width="1.1"/>
<path d="M190.40 112.3v3" stroke="#111" stroke-width="1.1"/>
<path d="M229.50 112.3v3" stroke="#111" stroke-width="1.1"/>
<rect x="164" y="78.3" width="13.00" height="34.00" fill="#0d1836"/><rect x="164.6" y="78.9" width="11.80" height="33.40" fill="url(#bg)"/><rect x="164.6" y="78.9" width="11.80" height="1.2" fill="#0a1430" opacity="0.35"/><rect x="164.6" y="110.10" width="11.80" height="1.6" fill="#0a1430" opacity="0.4"/>
<text x="168.5" y="126" text-anchor="middle" font-size="9.2" font-weight="bold">Control</text>
<rect x="203" y="77.3" width="13.00" height="35.00" fill="#0d1836"/><rect x="203.6" y="77.9" width="11.80" height="34.40" fill="url(#bg)"/><rect x="203.6" y="77.9" width="11.80" height="1.2" fill="#0a1430" opacity="0.35"/><rect x="203.6" y="110.10" width="11.80" height="1.6" fill="#0a1430" opacity="0.4"/>
<path d="M209.50 77V73M207.50 73h4" stroke="#555" stroke-width="0.8" fill="none"/>
<text x="209.8" y="125.6" text-anchor="middle" font-size="9.2" font-weight="bold">Se</text>
<text x="124" y="17.6" font-size="20.3" font-weight="bold">a</text>
<text transform="translate(125.8 61) rotate(-90)" text-anchor="middle" font-size="8.8" font-weight="bold">Apoptosis</text>
<text transform="translate(135.4 61) rotate(-90)" text-anchor="middle" font-size="8.8" font-weight="bold">(Fold Increase)</text>
<path d="M267 8.9V112.3H463.40000000000003" fill="none" stroke="#111" stroke-width="1.25"/>
<path d="M263.8 112.30H267" stroke="#111" stroke-width="1.1"/>
<text x="259.8" y="115.20" text-anchor="end" font-size="8.8" font-weight="bold">0</text>
<path d="M263.8 78.03H267" stroke="#111" stroke-width="1.1"/>
<text x="259.8" y="80.93" text-anchor="end" font-size="8.8" font-weight="bold">1</text>
<path d="M263.8 43.77H267" stroke="#111" stroke-width="1.1"/>
<text x="259.8" y="46.67" text-anchor="end" font-size="8.8" font-weight="bold">2</text>
<path d="M263.8 9.50H267" stroke="#111" stroke-width="1.1"/>
<text x="259.8" y="12.40" text-anchor="end" font-size="8.8" font-weight="bold">3</text>
<path d="M267.00 112.3v3" stroke="#111" stroke-width="1.1"/>
<path d="M306.16 112.3v3" stroke="#111" stroke-width="1.1"/>
<path d="M345.32 112.3v3" stroke="#111" stroke-width="1.1"/>
<path d="M384.48 112.3v3" stroke="#111" stroke-width="1.1"/>
<path d="M423.64 112.3v3" stroke="#111" stroke-width="1.1"/>
<path d="M462.80 112.3v3" stroke="#111" stroke-width="1.1"/>
<rect x="280.5" y="78.3" width="12.75" height="34.00" fill="#0d1836"/><rect x="281.1" y="78.9" width="11.55" height="33.40" fill="url(#bg)"/><rect x="281.1" y="78.9" width="11.55" height="1.2" fill="#0a1430" opacity="0.35"/><rect x="281.1" y="110.10" width="11.55" height="1.6" fill="#0a1430" opacity="0.4"/>
<text transform="translate(287.88 123.30) rotate(-45)" text-anchor="end" font-size="8.4" font-weight="bold">Control</text>
<rect x="319.8" y="30.8" width="12.90" height="81.50" fill="#0d1836"/><rect x="320.40000000000003" y="31.4" width="11.70" height="80.90" fill="url(#bg)"/><rect x="320.40000000000003" y="31.4" width="11.70" height="1.2" fill="#0a1430" opacity="0.35"/><rect x="320.40000000000003" y="110.10" width="11.70" height="1.6" fill="#0a1430" opacity="0.4"/>
<path d="M326.25 30.5V27M324.25 27h4" stroke="#555" stroke-width="0.8" fill="none"/>
<text x="326" y="26.75" text-anchor="middle" font-size="11" font-weight="bold">a</text>
<text transform="translate(327.25 123.30) rotate(-45)" text-anchor="end" font-size="8.4" font-weight="bold">IFNγ</text>
<rect x="358.75" y="64.8" width="12.75" height="47.50" fill="#0d1836"/><rect x="359.35" y="65.4" width="11.55" height="46.90" fill="url(#bg)"/><rect x="359.35" y="65.4" width="11.55" height="1.2" fill="#0a1430" opacity="0.35"/><rect x="359.35" y="110.10" width="11.55" height="1.6" fill="#0a1430" opacity="0.4"/>
<path d="M365.12 64.5V60M363.12 60h4" stroke="#555" stroke-width="0.8" fill="none"/>
<text x="365" y="57.5" text-anchor="middle" font-size="11" font-weight="bold">a,b</text>
<text transform="translate(366.12 123.30) rotate(-45)" text-anchor="end" font-size="8.4" font-weight="bold">IFNγ+Se</text>
<rect x="397.5" y="74.05" width="12.70" height="38.25" fill="#0d1836"/><rect x="398.1" y="74.65" width="11.50" height="37.65" fill="url(#bg)"/><rect x="398.1" y="74.65" width="11.50" height="1.2" fill="#0a1430" opacity="0.35"/><rect x="398.1" y="110.10" width="11.50" height="1.6" fill="#0a1430" opacity="0.4"/>
<path d="M403.85 73.75V71M401.85 71h4" stroke="#555" stroke-width="0.8" fill="none"/>
<text x="403" y="69.5" text-anchor="middle" font-size="11" font-weight="bold">b,c</text>
<text transform="translate(404.85 123.30) rotate(-45)" text-anchor="end" font-size="8.4" font-weight="bold">IFNγ+2-APB</text>
<rect x="436.25" y="79.05" width="12.75" height="33.25" fill="#0d1836"/><rect x="436.85" y="79.65" width="11.55" height="32.65" fill="url(#bg)"/><rect x="436.85" y="79.65" width="11.55" height="1.2" fill="#0a1430" opacity="0.35"/><rect x="436.85" y="110.10" width="11.55" height="1.6" fill="#0a1430" opacity="0.4"/>
<path d="M442.62 78.75V73.75M440.62 73.75h4" stroke="#555" stroke-width="0.8" fill="none"/>
<text x="442.5" y="70.75" text-anchor="middle" font-size="11" font-weight="bold">b,c</text>
<text transform="translate(443.62 123.30) rotate(-45)" text-anchor="end" font-size="8.4" font-weight="bold">IFNγ+ACA</text>
<text x="238.7" y="17.6" font-size="20.3" font-weight="bold">b</text>
<text transform="translate(239.5 61) rotate(-90)" text-anchor="middle" font-size="8.8" font-weight="bold">Apoptosis</text>
<text transform="translate(248.5 61) rotate(-90)" text-anchor="middle" font-size="8.8" font-weight="bold">(Fold Increase)</text>
<path d="M517 10.3V109.5H683.6" fill="none" stroke="#111" stroke-width="1.25"/>
<path d="M513.8 109.50H517" stroke="#111" stroke-width="1.1"/>
<text x="509.8" y="112.40" text-anchor="end" font-size="8.4" font-weight="bold">0</text>
<path d="M513.8 76.63H517" stroke="#111" stroke-width="1.1"/>
<text x="509.8" y="79.53" text-anchor="end" font-size="8.4" font-weight="bold">0.5</text>
<path d="M513.8 43.77H517" stroke="#111" stroke-width="1.1"/>
<text x="509.8" y="46.67" text-anchor="end" font-size="8.4" font-weight="bold">1</text>
<path d="M513.8 10.90H517" stroke="#111" stroke-width="1.1"/>
<text x="509.8" y="13.80" text-anchor="end" font-size="8.4" font-weight="bold">1.5</text>
<path d="M517.00 109.5v3" stroke="#111" stroke-width="1.1"/>
<path d="M550.20 109.5v3" stroke="#111" stroke-width="1.1"/>
<path d="M583.40 109.5v3" stroke="#111" stroke-width="1.1"/>
<path d="M616.60 109.5v3" stroke="#111" stroke-width="1.1"/>
<path d="M649.80 109.5v3" stroke="#111" stroke-width="1.1"/>
<path d="M683.00 109.5v3" stroke="#111" stroke-width="1.1"/>
<rect x="527.75" y="43.55" width="10.75" height="65.95" fill="#0d1836"/><rect x="528.35" y="44.15" width="9.55" height="65.35" fill="url(#bg)"/><rect x="528.35" y="44.15" width="9.55" height="1.2" fill="#0a1430" opacity="0.35"/><rect x="528.35" y="107.30" width="9.55" height="1.6" fill="#0a1430" opacity="0.4"/>
<text transform="translate(536.42 119.30) rotate(-45)" text-anchor="end" font-size="8.4" font-weight="bold">Control</text>
<rect x="561" y="84.8" width="11.00" height="24.70" fill="#0d1836"/><rect x="561.6" y="85.4" width="9.80" height="24.10" fill="url(#bg)"/><rect x="561.6" y="85.4" width="9.80" height="1.2" fill="#0a1430" opacity="0.35"/><rect x="561.6" y="107.30" width="9.80" height="1.6" fill="#0a1430" opacity="0.4"/>
<path d="M566.50 84.5V80M564.50 80h4" stroke="#555" stroke-width="0.8" fill="none"/>
<text x="565.25" y="76.75" text-anchor="middle" font-size="11" font-weight="bold">a</text>
<text transform="translate(569.80 119.30) rotate(-45)" text-anchor="end" font-size="8.4" font-weight="bold">IFNγ</text>
<rect x="594.5" y="59.8" width="10.75" height="49.70" fill="#0d1836"/><rect x="595.1" y="60.4" width="9.55" height="49.10" fill="url(#bg)"/><rect x="595.1" y="60.4" width="9.55" height="1.2" fill="#0a1430" opacity="0.35"/><rect x="595.1" y="107.30" width="9.55" height="1.6" fill="#0a1430" opacity="0.4"/>
<path d="M599.88 59.5V57.5M597.88 57.5h4" stroke="#555" stroke-width="0.8" fill="none"/>
<text x="599" y="55" text-anchor="middle" font-size="11" font-weight="bold">a,b</text>
<text transform="translate(603.17 119.30) rotate(-45)" text-anchor="end" font-size="8.4" font-weight="bold">IFNγ+Se</text>
<rect x="627.75" y="51.05" width="10.75" height="58.45" fill="#0d1836"/><rect x="628.35" y="51.65" width="9.55" height="57.85" fill="url(#bg)"/><rect x="628.35" y="51.65" width="9.55" height="1.2" fill="#0a1430" opacity="0.35"/><rect x="628.35" y="107.30" width="9.55" height="1.6" fill="#0a1430" opacity="0.4"/>
<path d="M633.12 50.75V48M631.12 48h4" stroke="#555" stroke-width="0.8" fill="none"/>
<text x="632.75" y="45.5" text-anchor="middle" font-size="11" font-weight="bold">b,c</text>
<text transform="translate(636.42 119.30) rotate(-45)" text-anchor="end" font-size="8.4" font-weight="bold">IFNγ+2-APB</text>
<rect x="661" y="49.55" width="10.50" height="59.95" fill="#0d1836"/><rect x="661.6" y="50.15" width="9.30" height="59.35" fill="url(#bg)"/><rect x="661.6" y="50.15" width="9.30" height="1.2" fill="#0a1430" opacity="0.35"/><rect x="661.6" y="107.30" width="9.30" height="1.6" fill="#0a1430" opacity="0.4"/>
<path d="M666.25 49.25V45.5M664.25 45.5h4" stroke="#555" stroke-width="0.8" fill="none"/>
<text x="665.75" y="42" text-anchor="middle" font-size="11" font-weight="bold">b,c</text>
<text transform="translate(669.55 119.30) rotate(-45)" text-anchor="end" font-size="8.4" font-weight="bold">IFNγ+ACA</text>
<text x="480.3" y="17.3" font-size="19.2" font-weight="bold">c</text>
<text transform="translate(480 68.5) rotate(-90)" text-anchor="middle" font-size="8.8" font-weight="bold">MTT</text>
<text transform="translate(489.5 68.5) rotate(-90)" text-anchor="middle" font-size="8.8" font-weight="bold">(Fold Increase)</text>
<path d="M157.5 186.6V275.7H251.29999999999998" fill="none" stroke="#111" stroke-width="1.25"/>
<path d="M154.3 275.70H157.5" stroke="#111" stroke-width="1.1"/>
<text x="150.3" y="278.60" text-anchor="end" font-size="8.8" font-weight="bold">0</text>
<path d="M154.3 253.57H157.5" stroke="#111" stroke-width="1.1"/>
<text x="150.3" y="256.47" text-anchor="end" font-size="8.8" font-weight="bold">1</text>
<path d="M154.3 231.45H157.5" stroke="#111" stroke-width="1.1"/>
<text x="150.3" y="234.35" text-anchor="end" font-size="8.8" font-weight="bold">2</text>
<path d="M154.3 209.32H157.5" stroke="#111" stroke-width="1.1"/>
<text x="150.3" y="212.22" text-anchor="end" font-size="8.8" font-weight="bold">3</text>
<path d="M154.3 187.20H157.5" stroke="#111" stroke-width="1.1"/>
<text x="150.3" y="190.10" text-anchor="end" font-size="8.8" font-weight="bold">4</text>
<path d="M157.50 275.7v3" stroke="#111" stroke-width="1.1"/>
<path d="M180.80 275.7v3" stroke="#111" stroke-width="1.1"/>
<path d="M204.10 275.7v3" stroke="#111" stroke-width="1.1"/>
<path d="M227.40 275.7v3" stroke="#111" stroke-width="1.1"/>
<path d="M250.70 275.7v3" stroke="#111" stroke-width="1.1"/>
<rect x="165.5" y="254.3" width="7.50" height="21.40" fill="#0d1836"/><rect x="166.1" y="254.9" width="6.30" height="20.80" fill="url(#bg)"/><rect x="166.1" y="254.9" width="6.30" height="1.2" fill="#0a1430" opacity="0.35"/><rect x="166.1" y="273.50" width="6.30" height="1.6" fill="#0a1430" opacity="0.4"/>
<text transform="translate(171.25 286.70) rotate(-45)" text-anchor="end" font-size="8.4" font-weight="bold">Control</text>
<rect x="188.75" y="207.70000000000002" width="8.05" height="68.00" fill="#0d1836"/><rect x="189.35" y="208.3" width="6.85" height="67.40" fill="url(#bg)"/><rect x="189.35" y="208.3" width="6.85" height="1.2" fill="#0a1430" opacity="0.35"/><rect x="189.35" y="273.50" width="6.85" height="1.6" fill="#0a1430" opacity="0.4"/>
<path d="M192.78 207.4V202.7M190.78 202.7h4" stroke="#555" stroke-width="0.8" fill="none"/>
<text x="192.5" y="200.5" text-anchor="middle" font-size="11" font-weight="bold">a</text>
<text transform="translate(194.78 286.70) rotate(-45)" text-anchor="end" font-size="8.4" font-weight="bold">IFNγ</text>
<rect x="212" y="224.5" width="8.00" height="51.20" fill="#0d1836"/><rect x="212.6" y="225.1" width="6.80" height="50.60" fill="url(#bg)"/><rect x="212.6" y="225.1" width="6.80" height="1.2" fill="#0a1430" opacity="0.35"/><rect x="212.6" y="273.50" width="6.80" height="1.6" fill="#0a1430" opacity="0.4"/>
<path d="M216.00 224.2V222M214.00 222h4" stroke="#555" stroke-width="0.8" fill="none"/>
<text x="216.25" y="219.25" text-anchor="middle" font-size="11" font-weight="bold">a,b</text>
<text transform="translate(218.00 286.70) rotate(-45)" text-anchor="end" font-size="8.4" font-weight="bold">IFNγ+Se</text>
<rect x="235.5" y="250.5" width="7.70" height="25.20" fill="#0d1836"/><rect x="236.1" y="251.1" width="6.50" height="24.60" fill="url(#bg)"/><rect x="236.1" y="251.1" width="6.50" height="1.2" fill="#0a1430" opacity="0.35"/><rect x="236.1" y="273.50" width="6.50" height="1.6" fill="#0a1430" opacity="0.4"/>
<text x="239.25" y="246.5" text-anchor="middle" font-size="11" font-weight="bold">b,c</text>
<text transform="translate(241.35 286.70) rotate(-45)" text-anchor="end" font-size="8.4" font-weight="bold">Se</text>
<text x="122.5" y="190.7" font-size="19.5" font-weight="bold">d</text>
<text transform="translate(125.2 239.5) rotate(-90)" text-anchor="middle" font-size="8.8" font-weight="bold">ROS</text>
<text transform="translate(135.3 239.5) rotate(-90)" text-anchor="middle" font-size="8.8" font-weight="bold">(Fold Increase)</text>
<path d="M308 187.3V276.6H393.90000000000003" fill="none" stroke="#111" stroke-width="1.25"/>
<path d="M304.8 276.60H308" stroke="#111" stroke-width="1.1"/>
<text x="300.8" y="279.50" text-anchor="end" font-size="8.8" font-weight="bold">0</text>
<path d="M304.8 247.03H308" stroke="#111" stroke-width="1.1"/>
<text x="300.8" y="249.93" text-anchor="end" font-size="8.8" font-weight="bold">1</text>
<path d="M304.8 217.47H308" stroke="#111" stroke-width="1.1"/>
<text x="300.8" y="220.37" text-anchor="end" font-size="8.8" font-weight="bold">2</text>
<path d="M304.8 187.90H308" stroke="#111" stroke-width="1.1"/>
<text x="300.8" y="190.80" text-anchor="end" font-size="8.8" font-weight="bold">3</text>
<path d="M308.00 276.6v3" stroke="#111" stroke-width="1.1"/>
<path d="M329.32 276.6v3" stroke="#111" stroke-width="1.1"/>
<path d="M350.65 276.6v3" stroke="#111" stroke-width="1.1"/>
<path d="M371.98 276.6v3" stroke="#111" stroke-width="1.1"/>
<path d="M393.30 276.6v3" stroke="#111" stroke-width="1.1"/>
<rect x="315" y="247.55" width="7.00" height="29.05" fill="#0d1836"/><rect x="315.6" y="248.15" width="5.80" height="28.45" fill="url(#bg)"/><rect x="315.6" y="248.15" width="5.80" height="1.2" fill="#0a1430" opacity="0.35"/><rect x="315.6" y="274.40" width="5.80" height="1.6" fill="#0a1430" opacity="0.4"/>
<text transform="translate(320.70 287.60) rotate(-45)" text-anchor="end" font-size="8.4" font-weight="bold">Control</text>
<rect x="336.25" y="196.05" width="7.50" height="80.55" fill="#0d1836"/><rect x="336.85" y="196.65" width="6.30" height="79.95" fill="url(#bg)"/><rect x="336.85" y="196.65" width="6.30" height="1.2" fill="#0a1430" opacity="0.35"/><rect x="336.85" y="274.40" width="6.30" height="1.6" fill="#0a1430" opacity="0.4"/>
<path d="M340.00 195.75V193.75M338.00 193.75h4" stroke="#555" stroke-width="0.8" fill="none"/>
<text x="340" y="192" text-anchor="middle" font-size="11" font-weight="bold">a</text>
<text transform="translate(342.20 287.60) rotate(-45)" text-anchor="end" font-size="8.4" font-weight="bold">IFNγ</text>
<rect x="358" y="218.3" width="7.00" height="58.30" fill="#0d1836"/><rect x="358.6" y="218.9" width="5.80" height="57.70" fill="url(#bg)"/><rect x="358.6" y="218.9" width="5.80" height="1.2" fill="#0a1430" opacity="0.35"/><rect x="358.6" y="274.40" width="5.80" height="1.6" fill="#0a1430" opacity="0.4"/>
<path d="M361.50 218V215.5M359.50 215.5h4" stroke="#555" stroke-width="0.8" fill="none"/>
<text x="361.25" y="211.75" text-anchor="middle" font-size="11" font-weight="bold">a,b</text>
<text transform="translate(363.70 287.60) rotate(-45)" text-anchor="end" font-size="8.4" font-weight="bold">IFNγ+Se</text>
<rect x="379.25" y="244.55" width="7.00" height="32.05" fill="#0d1836"/><rect x="379.85" y="245.15" width="5.80" height="31.45" fill="url(#bg)"/><rect x="379.85" y="245.15" width="5.80" height="1.2" fill="#0a1430" opacity="0.35"/><rect x="379.85" y="274.40" width="5.80" height="1.6" fill="#0a1430" opacity="0.4"/>
<path d="M382.75 244.25V242.25M380.75 242.25h4" stroke="#555" stroke-width="0.8" fill="none"/>
<text x="382.6" y="239.75" text-anchor="middle" font-size="11" font-weight="bold">b,c</text>
<text transform="translate(384.95 287.60) rotate(-45)" text-anchor="end" font-size="8.4" font-weight="bold">Se</text>
<text x="275" y="189.6" font-size="19.2" font-weight="bold">e</text>
<text transform="translate(278.2 234.8) rotate(-90)" text-anchor="middle" font-size="8.8" font-weight="bold">Mitoc. Dep.</text>
<text transform="translate(288 234.8) rotate(-90)" text-anchor="middle" font-size="8.8" font-weight="bold">(Fold Increase)</text>
<path d="M439 185.8V280.5H536.1" fill="none" stroke="#111" stroke-width="1.25"/>
<path d="M435.8 280.50H439" stroke="#111" stroke-width="1.1"/>
<text x="431.8" y="283.40" text-anchor="end" font-size="8.8" font-weight="bold">0</text>
<path d="M435.8 249.13H439" stroke="#111" stroke-width="1.1"/>
<text x="431.8" y="252.03" text-anchor="end" font-size="8.8" font-weight="bold">1</text>
<path d="M435.8 217.77H439" stroke="#111" stroke-width="1.1"/>
<text x="431.8" y="220.67" text-anchor="end" font-size="8.8" font-weight="bold">2</text>
<path d="M435.8 186.40H439" stroke="#111" stroke-width="1.1"/>
<text x="431.8" y="189.30" text-anchor="end" font-size="8.8" font-weight="bold">3</text>
<path d="M439.00 280.5v3" stroke="#111" stroke-width="1.1"/>
<path d="M463.12 280.5v3" stroke="#111" stroke-width="1.1"/>
<path d="M487.25 280.5v3" stroke="#111" stroke-width="1.1"/>
<path d="M511.38 280.5v3" stroke="#111" stroke-width="1.1"/>
<path d="M535.50 280.5v3" stroke="#111" stroke-width="1.1"/>
<rect x="447" y="248.8" width="7.50" height="31.70" fill="#0d1836"/><rect x="447.6" y="249.4" width="6.30" height="31.10" fill="url(#bg)"/><rect x="447.6" y="249.4" width="6.30" height="1.2" fill="#0a1430" opacity="0.35"/><rect x="447.6" y="278.30" width="6.30" height="1.6" fill="#0a1430" opacity="0.4"/>
<text transform="translate(453.75 290.20) rotate(-45)" text-anchor="end" font-size="8.4" font-weight="bold">Control</text>
<rect x="470.75" y="215.8" width="8.00" height="64.70" fill="#0d1836"/><rect x="471.35" y="216.4" width="6.80" height="64.10" fill="url(#bg)"/><rect x="471.35" y="216.4" width="6.80" height="1.2" fill="#0a1430" opacity="0.35"/><rect x="471.35" y="278.30" width="6.80" height="1.6" fill="#0a1430" opacity="0.4"/>
<path d="M474.75 215.5V209.25M472.75 209.25h4" stroke="#555" stroke-width="0.8" fill="none"/>
<text x="474.25" y="207" text-anchor="middle" font-size="11" font-weight="bold">a</text>
<text transform="translate(477.75 290.20) rotate(-45)" text-anchor="end" font-size="8.4" font-weight="bold">IFNγ</text>
<rect x="495" y="234.8" width="7.50" height="45.70" fill="#0d1836"/><rect x="495.6" y="235.4" width="6.30" height="45.10" fill="url(#bg)"/><rect x="495.6" y="235.4" width="6.30" height="1.2" fill="#0a1430" opacity="0.35"/><rect x="495.6" y="278.30" width="6.30" height="1.6" fill="#0a1430" opacity="0.4"/>
<path d="M498.75 234.5V230M496.75 230h4" stroke="#555" stroke-width="0.8" fill="none"/>
<text x="498.75" y="227.5" text-anchor="middle" font-size="11" font-weight="bold">a,b</text>
<text transform="translate(501.75 290.20) rotate(-45)" text-anchor="end" font-size="8.4" font-weight="bold">IFNγ+Se</text>
<rect x="519.25" y="247.55" width="7.50" height="32.95" fill="#0d1836"/><rect x="519.85" y="248.15" width="6.30" height="32.35" fill="url(#bg)"/><rect x="519.85" y="248.15" width="6.30" height="1.2" fill="#0a1430" opacity="0.35"/><rect x="519.85" y="278.30" width="6.30" height="1.6" fill="#0a1430" opacity="0.4"/>
<path d="M523.00 247.25V243M521.00 243h4" stroke="#555" stroke-width="0.8" fill="none"/>
<text x="522" y="240.25" text-anchor="middle" font-size="11" font-weight="bold">b,c</text>
<text transform="translate(526.00 290.20) rotate(-45)" text-anchor="end" font-size="8.4" font-weight="bold">Se</text>
<text x="407.8" y="186.6" font-size="19.2" font-weight="bold">g</text>
<text transform="translate(414.0 233.8) rotate(-90)" text-anchor="middle" font-size="8.8" font-weight="bold">Casp-3</text>
<text transform="translate(423.8 233.8) rotate(-90)" text-anchor="middle" font-size="8.8" font-weight="bold">(Fold Increase)</text>
<path d="M583.5 184.1V276.8H675.1" fill="none" stroke="#111" stroke-width="1.25"/>
<path d="M580.3 276.80H583.5" stroke="#111" stroke-width="1.1"/>
<text x="576.3" y="279.70" text-anchor="end" font-size="8.8" font-weight="bold">0</text>
<path d="M580.3 246.10H583.5" stroke="#111" stroke-width="1.1"/>
<text x="576.3" y="249.00" text-anchor="end" font-size="8.8" font-weight="bold">1</text>
<path d="M580.3 215.40H583.5" stroke="#111" stroke-width="1.1"/>
<text x="576.3" y="218.30" text-anchor="end" font-size="8.8" font-weight="bold">2</text>
<path d="M580.3 184.70H583.5" stroke="#111" stroke-width="1.1"/>
<text x="576.3" y="187.60" text-anchor="end" font-size="8.8" font-weight="bold">3</text>
<path d="M583.50 276.8v3" stroke="#111" stroke-width="1.1"/>
<path d="M606.25 276.8v3" stroke="#111" stroke-width="1.1"/>
<path d="M629.00 276.8v3" stroke="#111" stroke-width="1.1"/>
<path d="M651.75 276.8v3" stroke="#111" stroke-width="1.1"/>
<path d="M674.50 276.8v3" stroke="#111" stroke-width="1.1"/>
<rect x="590.25" y="246.3" width="7.50" height="30.50" fill="#0d1836"/><rect x="590.85" y="246.9" width="6.30" height="29.90" fill="url(#bg)"/><rect x="590.85" y="246.9" width="6.30" height="1.2" fill="#0a1430" opacity="0.35"/><rect x="590.85" y="274.60" width="6.30" height="1.6" fill="#0a1430" opacity="0.4"/>
<text transform="translate(596.70 286.50) rotate(-45)" text-anchor="end" font-size="8.4" font-weight="bold">Control</text>
<rect x="613.5" y="209.8" width="7.25" height="67.00" fill="#0d1836"/><rect x="614.1" y="210.4" width="6.05" height="66.40" fill="url(#bg)"/><rect x="614.1" y="210.4" width="6.05" height="1.2" fill="#0a1430" opacity="0.35"/><rect x="614.1" y="274.60" width="6.05" height="1.6" fill="#0a1430" opacity="0.4"/>
<path d="M617.12 209.5V204.25M615.12 204.25h4" stroke="#555" stroke-width="0.8" fill="none"/>
<text x="616.5" y="201.25" text-anchor="middle" font-size="11" font-weight="bold">a</text>
<text transform="translate(619.83 286.50) rotate(-45)" text-anchor="end" font-size="8.4" font-weight="bold">IFNγ</text>
<rect x="636" y="231.05" width="7.50" height="45.75" fill="#0d1836"/><rect x="636.6" y="231.65" width="6.30" height="45.15" fill="url(#bg)"/><rect x="636.6" y="231.65" width="6.30" height="1.2" fill="#0a1430" opacity="0.35"/><rect x="636.6" y="274.60" width="6.30" height="1.6" fill="#0a1430" opacity="0.4"/>
<path d="M639.75 230.75V227M637.75 227h4" stroke="#555" stroke-width="0.8" fill="none"/>
<text x="639" y="223.25" text-anchor="middle" font-size="11" font-weight="bold">a,b</text>
<text transform="translate(642.45 286.50) rotate(-45)" text-anchor="end" font-size="8.4" font-weight="bold">IFNγ+Se</text>
<rect x="659" y="245.05" width="7.00" height="31.75" fill="#0d1836"/><rect x="659.6" y="245.65" width="5.80" height="31.15" fill="url(#bg)"/><rect x="659.6" y="245.65" width="5.80" height="1.2" fill="#0a1430" opacity="0.35"/><rect x="659.6" y="274.60" width="5.80" height="1.6" fill="#0a1430" opacity="0.4"/>
<path d="M662.50 244.75V243M660.50 243h4" stroke="#555" stroke-width="0.8" fill="none"/>
<text x="662" y="239.25" text-anchor="middle" font-size="11" font-weight="bold">b,c</text>
<text transform="translate(665.20 286.50) rotate(-45)" text-anchor="end" font-size="8.4" font-weight="bold">Se</text>
<text x="553.3" y="186.8" font-size="19.2" font-weight="bold">h</text>
<text transform="translate(556.5 232.5) rotate(-90)" text-anchor="middle" font-size="8.8" font-weight="bold">Casp-9</text>
<text transform="translate(566 232.5) rotate(-90)" text-anchor="middle" font-size="8.8" font-weight="bold">(Fold Increase)</text>
</svg>
</body></html>
